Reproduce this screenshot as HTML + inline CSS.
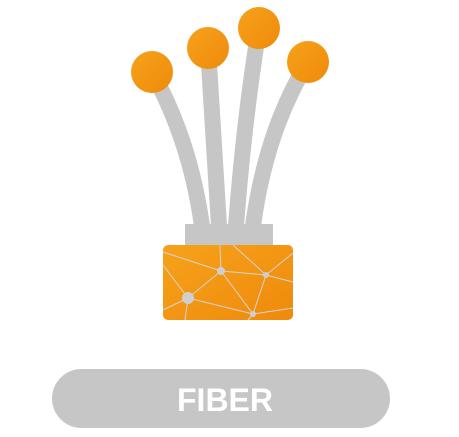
<!DOCTYPE html>
<html><head><meta charset="utf-8"><style>
html,body{margin:0;padding:0;background:#fff;width:459px;height:437px;overflow:hidden}
</style></head><body>
<svg width="459" height="437" viewBox="0 0 459 437">
<defs>
<linearGradient id="og" x1="0" y1="0" x2="1" y2="1">
<stop offset="0" stop-color="#f6a21a"/><stop offset="1" stop-color="#ef8a0c"/>
</linearGradient>
</defs>
<g fill="none" stroke="#c6c6c6" stroke-width="16">
<path d="M152 72 Q190 140 202 226"/>
<path d="M208 48 Q214 140 219 226"/>
<path d="M259 28 Q244 120 236 226"/>
<path d="M308 62 Q266 130 253 226"/>
</g>
<g fill="url(#og)">
<circle cx="152" cy="72" r="21"/>
<circle cx="208" cy="48" r="21"/>
<circle cx="259" cy="28" r="21"/>
<circle cx="308" cy="62" r="21"/>
</g>
<rect x="185" y="224" width="88" height="22" fill="#c6c6c6"/>
<rect x="163" y="245" width="130" height="75" rx="5" fill="url(#og)"/>
<g stroke="#d4d4d4" stroke-width="1" fill="none">
<path d="M163 252 L221 271 L266 275 L293 282 M221 271 L188 298 L253 314 L293 308 M221 271 L253 314 L266 275 L293 253 M188 298 L163 310 M188 298 L185 320 M253 314 L248 320 M220 245 L221 271 M233 245 L266 275 M163 265 L188 298"/>
</g>
<g fill="#cfcfcf">
<circle cx="221" cy="271" r="4"/><circle cx="266" cy="275" r="3"/><circle cx="188" cy="298" r="6"/><circle cx="253" cy="314" r="3"/>
</g>
<g>
<rect x="52" y="369" width="338" height="59" rx="29.5" fill="#c6c6c6"/>
<text x="225" y="411" text-anchor="middle" font-family="Liberation Sans, sans-serif" font-weight="bold" font-size="32" fill="#fff">FIBER</text>
</g>
</svg>
</body></html>
